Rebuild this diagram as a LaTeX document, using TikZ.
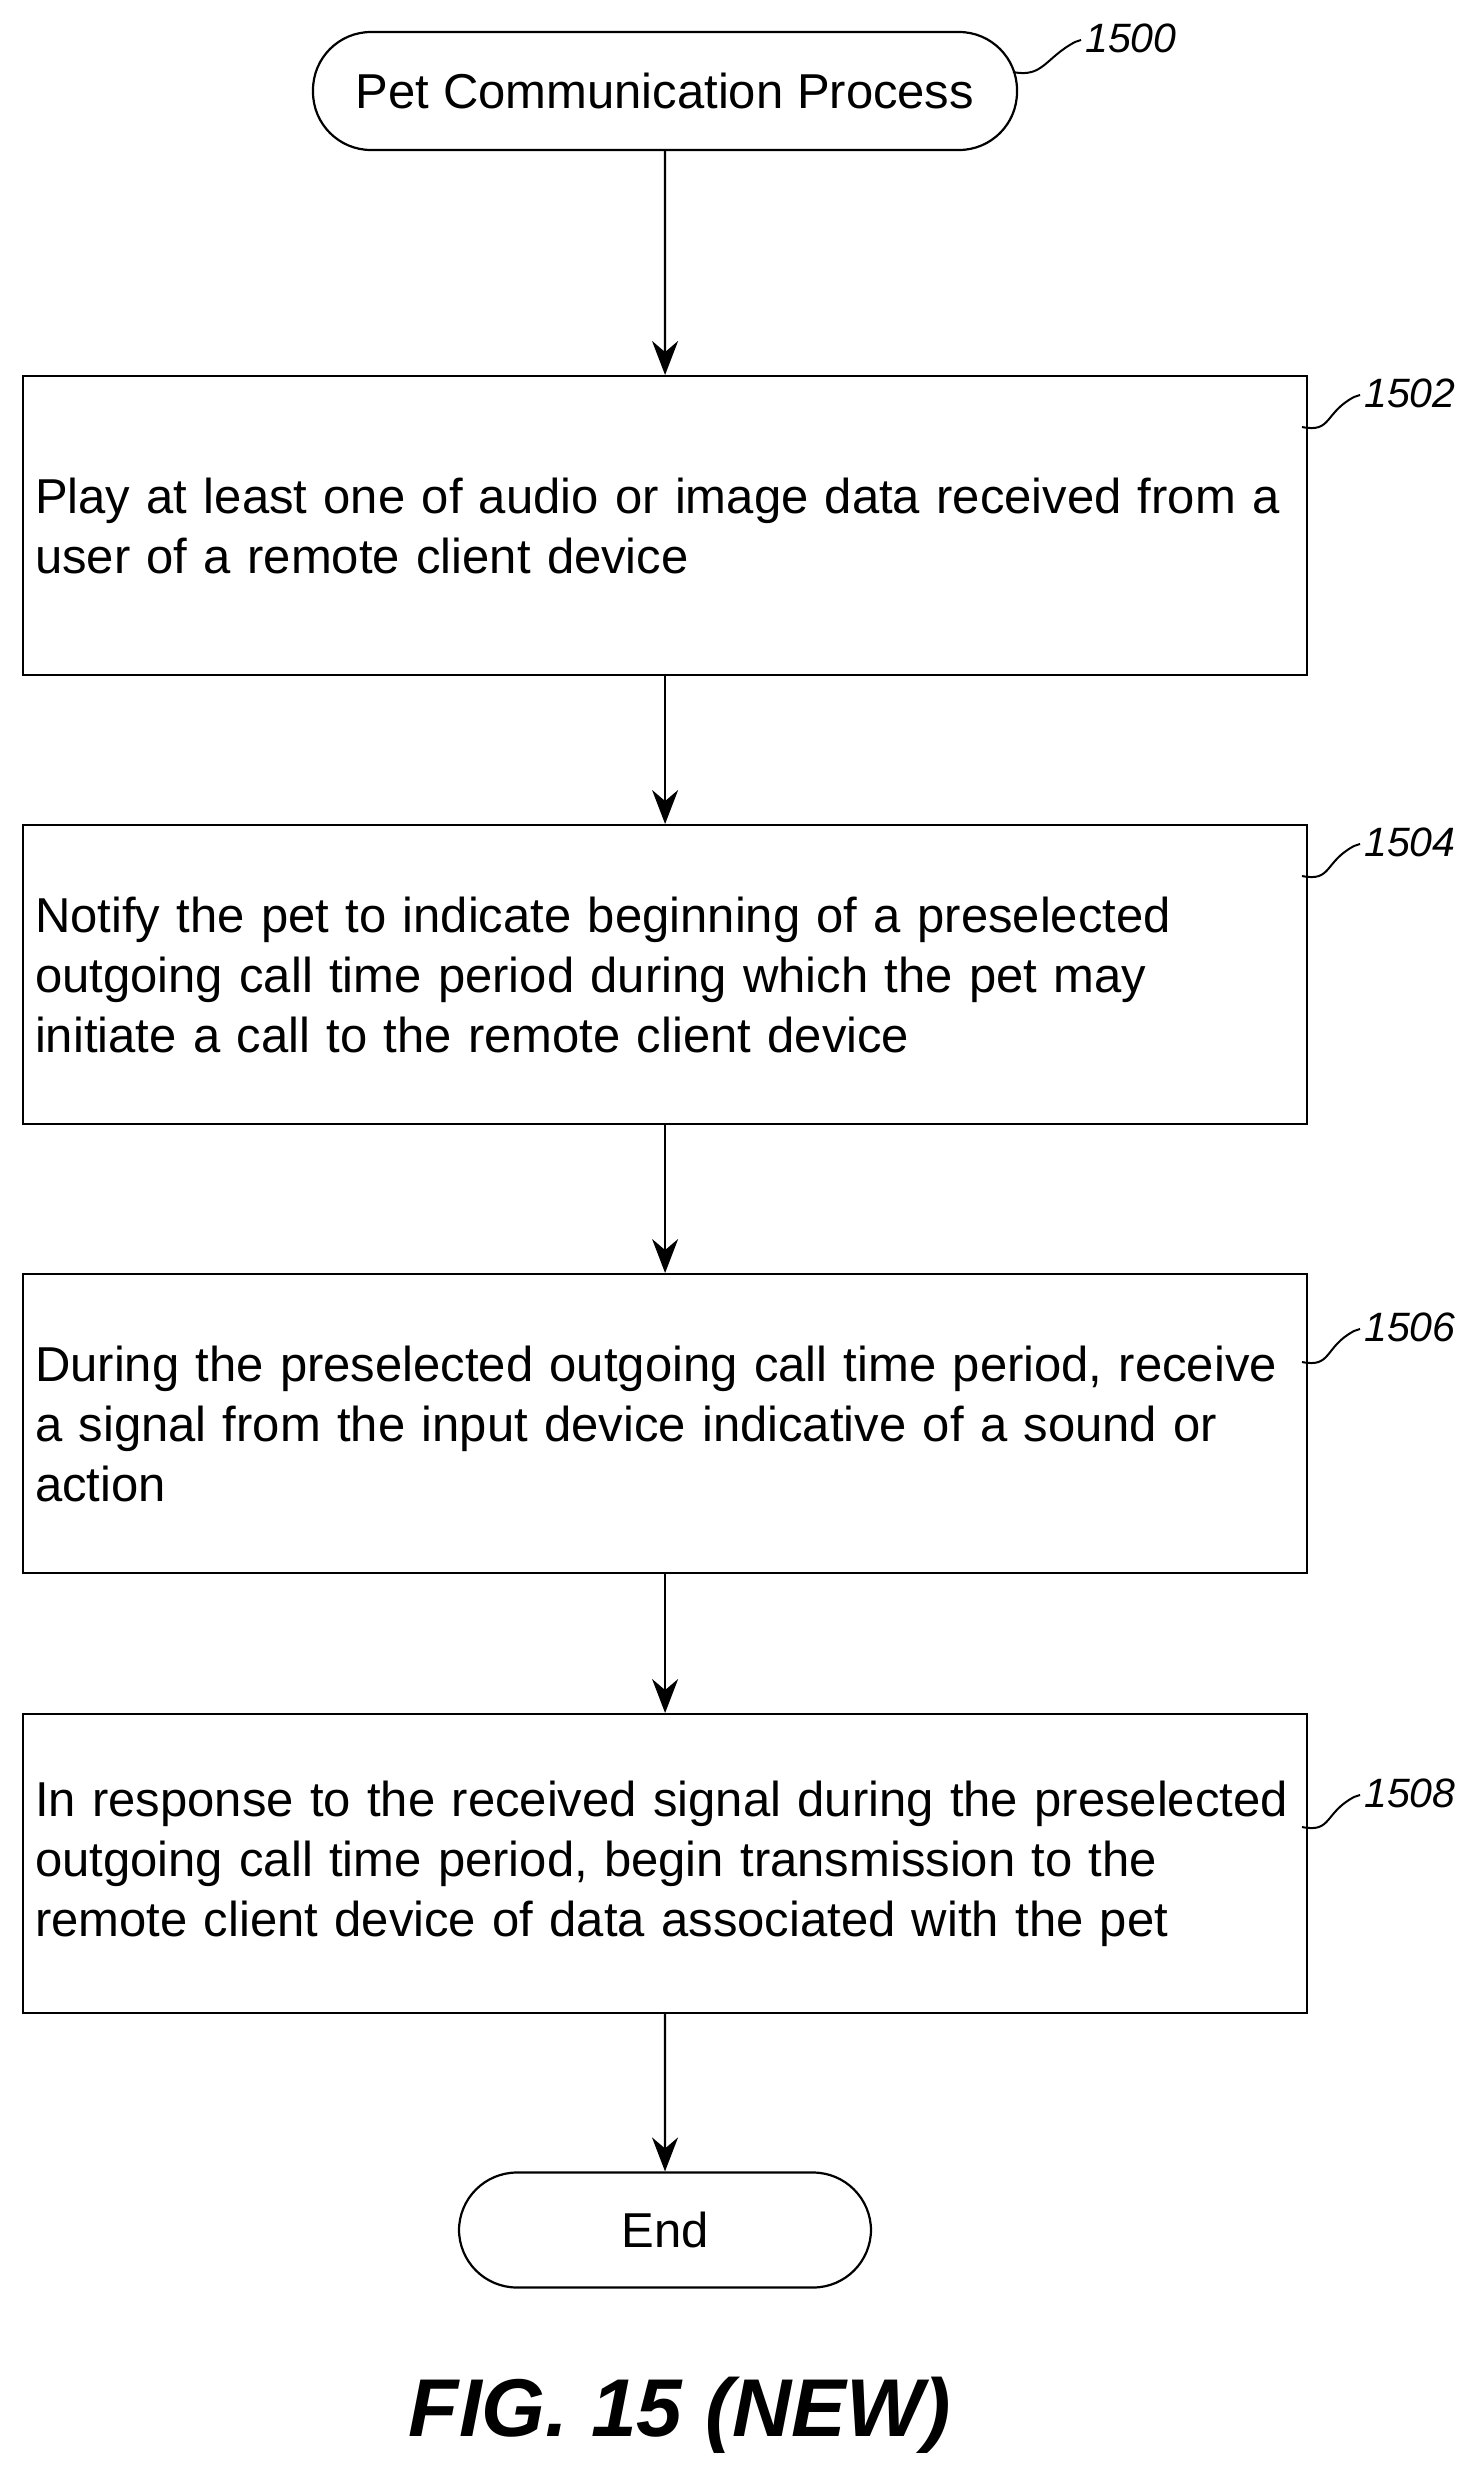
\documentclass[tikz,border=0pt]{standalone}
\usepackage{fontspec}
\setmainfont{Liberation Sans}
\usetikzlibrary{arrows.meta,calc}
\begin{document}
\begin{tikzpicture}[x=1pt,y=-1pt,
  box/.style={draw,line width=2.2pt,minimum width=1284pt,minimum height=299pt,text width=1276pt,align=left,font=\fontsize{49}{60}\selectfont,anchor=north west,inner sep=0pt},
  term/.style={draw,line width=2.2pt,rounded corners=58pt,font=\fontsize{49}{50}\selectfont,inner sep=0pt},
  arr/.style={line width=2.2pt,-{Stealth[length=34pt,width=26pt]}},
  lab/.style={font=\fontsize{41}{41}\selectfont\itshape,anchor=west,inner sep=0pt},
  sq/.style={line width=2pt}]
\useasboundingbox (0,0) rectangle (1480,2487);
\node[term,minimum width=704pt,minimum height=118pt] (s) at (665,91) {Pet Communication Process};
\node[box] (b1) at (22,375) {\hspace*{8pt}Play at least one of audio or image data received from a\\\hspace*{8pt}user of a remote client device\\[30pt]};
\node[box] (b2) at (22,824) {\hspace*{8pt}Notify the pet to indicate beginning of a preselected\\\hspace*{8pt}outgoing call time period during which the pet may\\\hspace*{8pt}initiate a call to the remote client device};
\node[box] (b3) at (22,1273) {\hspace*{8pt}During the preselected outgoing call time period, receive\\\hspace*{8pt}a signal from the input device indicative of a sound or\\\hspace*{8pt}action};
\node[box] (b4) at (22,1713) {\hspace*{8pt}In response to the received signal during the preselected\\\hspace*{8pt}outgoing call time period, begin transmission to the\\\hspace*{8pt}remote client device of data associated with the pet};
\node[term,minimum width=412pt,minimum height=115pt] (e) at (665,2230) {End};
\draw[arr] (s) -- (b1);
\draw[arr] (b1) -- (b2);
\draw[arr] (b2) -- (b3);
\draw[arr] (b3) -- (b4);
\draw[arr] (b4) -- (e);
\node[lab] (l0) at (1085,38) {1500};
\node[lab] (l1) at (1364,393) {1502};
\node[lab] (l2) at (1364,842) {1504};
\node[lab] (l3) at (1364,1327) {1506};
\node[lab] (l4) at (1364,1793) {1508};
\coordinate (c0) at (1013,72); \coordinate (c1) at (1302,427);
\coordinate (c2) at (1302,876); \coordinate (c3) at (1302,1362); \coordinate (c4) at (1302,1827);
\foreach \c/\l in {c0/l0,c1/l1,c2/l2,c3/l3,c4/l4}
  \draw[sq] (\c) .. controls ($(\c)+(30,6)$) and ($(\l.west)+(-40,20)$) .. ($(\l.west)+(-10,4)$) -- ($(\l.west)+(-4,2)$);
\node[font=\fontsize{82}{82}\selectfont\bfseries\itshape] (cap) at (680,2415) {FIG. 15 (NEW)};
\end{tikzpicture}
\end{document}
